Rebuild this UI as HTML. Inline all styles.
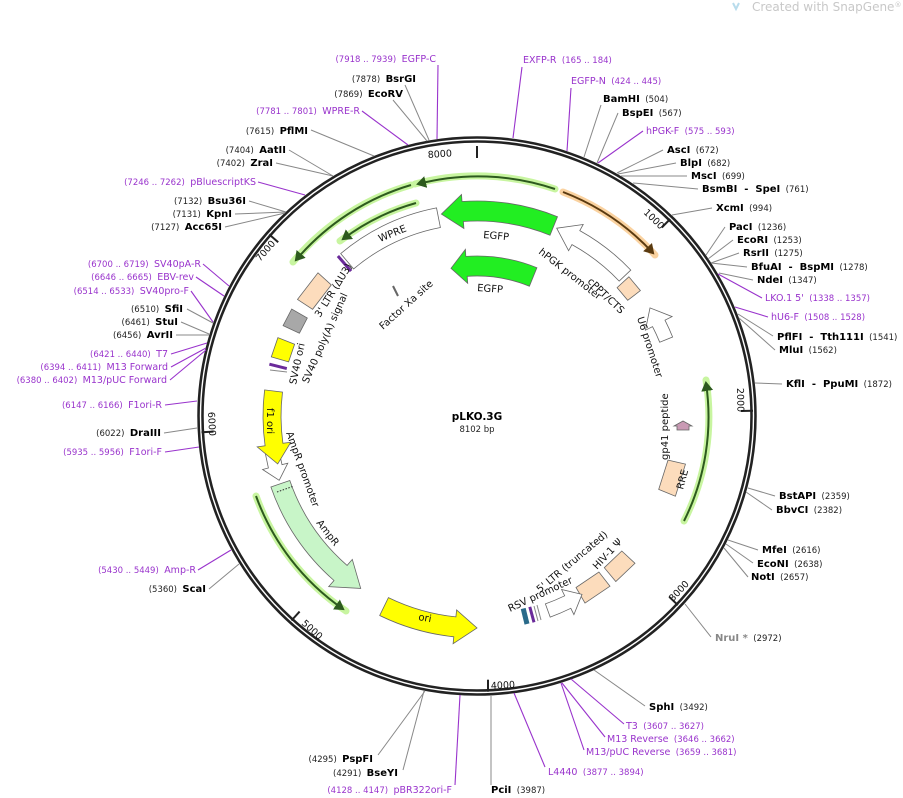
<!DOCTYPE html>
<html><head><meta charset="utf-8"><style>
html,body{margin:0;padding:0;background:#fff;}
svg{display:block;font-family:"DejaVu Sans","Liberation Sans",sans-serif;}
text{white-space:pre;}
.n{font-size:10px;font-weight:bold;fill:#000;}
.c{font-size:8.5px;fill:#222;}
.p{font-size:9.5px;fill:#9933cc;}
.pc{font-size:8.5px;fill:#9933cc;}
.f{font-size:10px;fill:#111;}
.l{stroke:#888;stroke-width:1;fill:none;}
.lp{stroke:#9933cc;stroke-width:1.1;fill:none;}
.ft{stroke:#666;stroke-width:0.8;}
</style></head><body>
<svg width="903" height="798" viewBox="0 0 903 798" xmlns="http://www.w3.org/2000/svg">
<defs>
<marker id="ag" markerWidth="6" markerHeight="6" refX="4" refY="3" orient="auto" markerUnits="strokeWidth"><path d="M0,0 L5,3 L0,6 Z" fill="#2d5a1e"/></marker>
<marker id="ao" markerWidth="6" markerHeight="6" refX="4" refY="3" orient="auto" markerUnits="strokeWidth"><path d="M0,0 L5,3 L0,6 Z" fill="#5a3a10"/></marker>
</defs>
<text x="752" y="11" font-size="12" fill="#c8c8c8">Created with SnapGene<tspan font-size="7" dy="-4">®</tspan></text>
<path d="M733,3 l3,6 l3,-6" stroke="#b8dcec" stroke-width="2" fill="none"/>

<circle cx="477" cy="416" r="276.5" fill="none" stroke="#222" stroke-width="6.5"/>
<circle cx="477" cy="416" r="276.5" fill="none" stroke="#fff" stroke-width="1.4"/>
<g stroke="#222" stroke-width="2">
<line x1="477" y1="146" x2="477" y2="158"/>
<line x1="661.8" y1="227.5" x2="670.2" y2="219"/>
<line x1="741" y1="411" x2="753" y2="410.7"/>
<line x1="669.2" y1="596.8" x2="677.9" y2="605.1"/>
<line x1="488" y1="679.7" x2="488" y2="691.7"/>
<line x1="299.6" y1="611.6" x2="291.5" y2="620.5"/>
<line x1="213.5" y1="431.6" x2="201.5" y2="432.3"/>
<line x1="278.2" y1="242.3" x2="269.2" y2="234.4"/>
</g>
<g font-size="9.5" fill="#111">
<text transform="translate(428,158) rotate(-4)">8000</text>
<text transform="translate(643,213) rotate(44)">1000</text>
<text transform="translate(737,388) rotate(89)">2000</text>
<text transform="translate(673,602) rotate(-47)">3000</text>
<text transform="translate(491,689) rotate(-3)">4000</text>
<text transform="translate(301,624) rotate(42)">5000</text>
<text transform="translate(208,412) rotate(87)">6000</text>
<text transform="translate(260,262) rotate(-49)">7000</text>
</g>

<g fill="none" stroke-linecap="round">
<path d="M555,189 A240 240 0 0 0 415,184" stroke="#c8f5a0" stroke-width="7"/>
<path d="M411,185 A240 240 0 0 0 293,262" stroke="#c8f5a0" stroke-width="7"/>
<path d="M416,203 A222 222 0 0 0 340,241" stroke="#c8f5a0" stroke-width="7"/>
<path d="M684,521 A232 232 0 0 0 706,380" stroke="#c8f5a0" stroke-width="7"/>
<path d="M256,496 A235 235 0 0 0 346,611" stroke="#c8f5a0" stroke-width="7"/>
<path d="M563,192 A240 240 0 0 1 655,255" stroke="#fad2a0" stroke-width="7"/>
</g>
<g fill="none" stroke-width="2">
<path d="M555,189 A240 240 0 0 0 418,184" stroke="#2d5a1e" marker-end="url(#ag)"/>
<path d="M411,185 A240 240 0 0 0 296,260" stroke="#2d5a1e" marker-end="url(#ag)"/>
<path d="M416,203 A222 222 0 0 0 343,239" stroke="#2d5a1e" marker-end="url(#ag)"/>
<path d="M684,521 A232 232 0 0 0 706,383" stroke="#2d5a1e" marker-end="url(#ag)"/>
<path d="M256,496 A235 235 0 0 0 343,609" stroke="#2d5a1e" marker-end="url(#ag)"/>
<path d="M563,192 A240 240 0 0 1 653,253" stroke="#5a3a10" marker-end="url(#ao)"/>
</g>

<g class="ft">
<path d="M557.5,216.7 A215 215 0 0 0 462,201.5 L461.5,194.5 L441.4,214.1 L463.9,228.5 L463.4,221.5 A195 195 0 0 1 550,235.2 Z" fill="#22ee22"/>
<path d="M536.9,267.7 A160 160 0 0 0 465.8,256.4 L465.4,249.4 L451,268.3 L467.7,283.3 L467.2,276.3 A140 140 0 0 1 529.4,286.2 Z" fill="#22ee22"/>
<path d="M436.5,207.9 A212 212 0 0 0 340.7,253.6 L353.6,268.9 A192 192 0 0 1 440.4,227.5 Z" fill="#fff"/>
<path d="M630.8,270.1 A212 212 0 0 0 579.8,230.6 L583.2,224.5 L556.7,228.2 L568.6,250.7 L572,244.6 A196 196 0 0 1 619.2,281.1 Z" fill="#fff"/>
<polygon points="628.9,276.8 617.1,287.6 627.7,300.3 640.4,290.6" fill="#fcdcbc"/>
<path d="M672.6,337 A211 211 0 0 0 665,320.2 L672.1,316.6 L650,307.9 L645.4,330.2 L652.5,326.6 A197 197 0 0 1 659.7,342.2 Z" fill="#fff"/>
<polygon points="674,426 683,421 692,426 689,426 689,430 677,430 677,426" fill="#c99ab4"/>
<polygon points="685.5,464.1 668,460.1 658.7,489.4 675.4,496.2" fill="#fcdcbc"/>
<polygon points="635,563.3 621.8,551 604.3,567.7 615.8,581.5" fill="#fcdcbc"/>
<polygon points="610,586.2 598.9,572 576,587.5 585,603.1" fill="#fcdcbc"/>
<path d="M550.2,617.1 A214 214 0 0 0 570.8,608.3 L573.9,614.6 L582,594.4 L561.6,589.5 L564.7,595.8 A200 200 0 0 1 545.4,603.9 Z" fill="#fff"/>
<path d="M379.7,615.5 A222 222 0 0 0 453.8,636.8 L453.1,643.7 L477,628 L456.6,609.9 L455.9,616.9 A202 202 0 0 1 388.4,597.6 Z" fill="#ffff00"/>
<path d="M270.9,487 A218 218 0 0 0 334,580.5 L328.7,586.6 L360.7,588.4 L352.3,559.4 L347.1,565.4 A198 198 0 0 1 289.8,480.5 Z" fill="#c8f5c8"/>
<path d="M265.3,453.3 L268.4,468 L262.6,469.5 L279.2,480.3 L287.8,463.2 L282,464.6 L279,450.9 Z" fill="#fff"/>
<path d="M264.6,389.9 A214 214 0 0 0 265.1,445.8 L257.2,446.9 L277.7,463.9 L290.8,442.2 L282.9,443.3 A196 196 0 0 1 282.5,392.1 Z" fill="#ffff00"/>
<polygon points="271.3,356.9 288.6,361.9 294.6,344.2 277.9,337.6" fill="#ffff00"/>
<polygon points="283.1,325.6 299.4,333.2 307.3,318 291.7,309" fill="#a8a8a8"/>
<polygon points="297.5,299.4 312.6,309.3 331.3,284.9 318,272.8" fill="#fcdcbc"/>
</g>
<line x1="277" y1="492" x2="294" y2="486" stroke="#333" stroke-dasharray="1.5,1.5"/>
<line x1="337.9" y1="256" x2="351" y2="271.1" stroke="#6a2a9a" stroke-width="3"/>
<line x1="269.4" y1="364.2" x2="286.8" y2="368.6" stroke="#6a2a9a" stroke-width="3"/>
<line x1="270" y1="370" x2="287" y2="372" stroke="#888" stroke-width="1"/>
<line x1="393" y1="286" x2="398" y2="296" stroke="#666" stroke-width="2"/>
<line x1="527" y1="624" x2="523.2" y2="608.5" stroke="#2a6a8a" stroke-width="5"/>
<line x1="534" y1="622.3" x2="529.8" y2="606.9" stroke="#6a2a9a" stroke-width="3"/>
<line x1="538" y1="621" x2="534" y2="606" stroke="#888" stroke-width="1"/>
<line x1="541" y1="620" x2="537" y2="605" stroke="#888" stroke-width="1"/>

<g class="f">
<text transform="translate(483,238) rotate(5)">EGFP</text>
<text transform="translate(477,291) rotate(4)">EGFP</text>
<text transform="translate(380,242) rotate(-22)">WPRE</text>
<text transform="translate(538,253) rotate(38)">hPGK promoter</text>
<text transform="translate(587,282) rotate(44)">cPPT/CTS</text>
<text transform="translate(637,318) rotate(72)">U6 promoter</text>
<text transform="translate(668,460) rotate(-90)">gp41 peptide</text>
<text transform="translate(683,490) rotate(-75)">RRE</text>
<text transform="translate(597,570) rotate(-47)">HIV-1 Ψ</text>
<text transform="translate(540,593) rotate(-40)">5' LTR (truncated)</text>
<text transform="translate(510,612) rotate(-25)">RSV promoter</text>
<text transform="translate(418,620) rotate(10)">ori</text>
<text transform="translate(316,523) rotate(52)">AmpR</text>
<text transform="translate(286,433) rotate(70)">AmpR promoter</text>
<text transform="translate(267,408) rotate(90)">f1 ori</text>
<text transform="translate(296,385) rotate(-78)">SV40 ori</text>
<text transform="translate(308,384) rotate(-66)">SV40 poly(A) signal</text>
<text transform="translate(320,318) rotate(-58)">3' LTR (ΔU3)</text>
<text transform="translate(383,330) rotate(-42)">Factor Xa site</text>
</g>
<text x="477" y="420" text-anchor="middle" font-size="10.5" font-weight="bold">pLKO.3G</text>
<text x="477" y="432" text-anchor="middle" font-size="8.5" fill="#222">8102 bp</text>

<g class="l">
<path d="M405,85 L429,140"/><path d="M393,100 L427,141"/>
<path d="M311,130 L374,156"/><path d="M289,150 L333,176"/><path d="M276,163 L333,176"/>
<path d="M249,201 L286,212"/><path d="M235,214 L286,212"/><path d="M225,227 L285,213"/>
<path d="M187,309 L213,323"/><path d="M181,322 L209,334"/><path d="M176,335 L209,335"/>
<path d="M164,433 L197,428"/><path d="M209,589 L239,564"/>
<path d="M378,755 L425,691"/><path d="M403,770 L424,691"/><path d="M491,785 L491,696"/>
<path d="M645,706 L594,670"/><path d="M711,637 L685,604"/>
<path d="M748,577 L724,548"/><path d="M753,563 L726,544"/><path d="M758,550 L728,540"/>
<path d="M772,510 L746,492"/><path d="M775,496 L748,488"/><path d="M782,384 L755,383"/>
<path d="M775,350 L739,318"/><path d="M773,336 L738,314"/><path d="M753,280 L719,273"/>
<path d="M747,267 L711,263"/><path d="M739,253 L711,263"/><path d="M733,240 L708,259"/><path d="M725,227 L706,255"/>
<path d="M712,208 L672,215"/><path d="M698,189 L633,183"/><path d="M687,176 L621,176"/><path d="M676,163 L618,174"/><path d="M663,150 L617,173"/>
<path d="M618,113 L597,163"/><path d="M601,105 L584,157"/>
</g>
<g class="lp">
<path d="M438,65 L437,139"/><path d="M362,111 L408,145"/><path d="M258,182 L305,195"/>
<path d="M203,264 L229,286"/><path d="M196,277 L224,296"/><path d="M191,291 L213,322"/>
<path d="M171,354 L207,343"/><path d="M171,367 L206,348"/><path d="M170,380 L206,350"/>
<path d="M165,405 L197,401"/><path d="M165,452 L199,447"/><path d="M198,570 L231,550"/>
<path d="M455,785 L460,695"/><path d="M545,767 L514,693"/>
<path d="M584,750 L561,683"/><path d="M605,737 L562,683"/><path d="M624,724 L571,679"/>
<path d="M768,317 L735,307"/><path d="M762,298 L718,274"/>
<path d="M643,131 L598,163"/><path d="M571,88 L567,151"/><path d="M522,67 L513,138"/>
</g>

<g text-anchor="end">
<text x="436" y="62"><tspan class="pc">(7918 .. 7939)  </tspan><tspan class="p">EGFP-C</tspan></text>
<text x="416" y="82"><tspan class="c">(7878)  </tspan><tspan class="n">BsrGI</tspan></text>
<text x="403" y="97"><tspan class="c">(7869)  </tspan><tspan class="n">EcoRV</tspan></text>
<text x="360" y="114"><tspan class="pc">(7781 .. 7801)  </tspan><tspan class="p">WPRE-R</tspan></text>
<text x="308" y="134"><tspan class="c">(7615)  </tspan><tspan class="n">PflMI</tspan></text>
<text x="286" y="153"><tspan class="c">(7404)  </tspan><tspan class="n">AatII</tspan></text>
<text x="273" y="166"><tspan class="c">(7402)  </tspan><tspan class="n">ZraI</tspan></text>
<text x="256" y="185"><tspan class="pc">(7246 .. 7262)  </tspan><tspan class="p">pBluescriptKS</tspan></text>
<text x="246" y="204"><tspan class="c">(7132)  </tspan><tspan class="n">Bsu36I</tspan></text>
<text x="232" y="217"><tspan class="c">(7131)  </tspan><tspan class="n">KpnI</tspan></text>
<text x="222" y="230"><tspan class="c">(7127)  </tspan><tspan class="n">Acc65I</tspan></text>
<text x="201" y="267"><tspan class="pc">(6700 .. 6719)  </tspan><tspan class="p">SV40pA-R</tspan></text>
<text x="194" y="280"><tspan class="pc">(6646 .. 6665)  </tspan><tspan class="p">EBV-rev</tspan></text>
<text x="189" y="294"><tspan class="pc">(6514 .. 6533)  </tspan><tspan class="p">SV40pro-F</tspan></text>
<text x="183" y="312"><tspan class="c">(6510)  </tspan><tspan class="n">SfiI</tspan></text>
<text x="178" y="325"><tspan class="c">(6461)  </tspan><tspan class="n">StuI</tspan></text>
<text x="173" y="338"><tspan class="c">(6456)  </tspan><tspan class="n">AvrII</tspan></text>
<text x="168" y="357"><tspan class="pc">(6421 .. 6440)  </tspan><tspan class="p">T7</tspan></text>
<text x="168" y="370"><tspan class="pc">(6394 .. 6411)  </tspan><tspan class="p">M13 Forward</tspan></text>
<text x="167" y="383"><tspan class="pc">(6380 .. 6402)  </tspan><tspan class="p">M13/pUC Forward</tspan></text>
<text x="162" y="408"><tspan class="pc">(6147 .. 6166)  </tspan><tspan class="p">F1ori-R</tspan></text>
<text x="161" y="436"><tspan class="c">(6022)  </tspan><tspan class="n">DraIII</tspan></text>
<text x="162" y="455"><tspan class="pc">(5935 .. 5956)  </tspan><tspan class="p">F1ori-F</tspan></text>
<text x="196" y="573"><tspan class="pc">(5430 .. 5449)  </tspan><tspan class="p">Amp-R</tspan></text>
<text x="206" y="592"><tspan class="c">(5360)  </tspan><tspan class="n">ScaI</tspan></text>
<text x="373" y="762"><tspan class="c">(4295)  </tspan><tspan class="n">PspFI</tspan></text>
<text x="398" y="776"><tspan class="c">(4291)  </tspan><tspan class="n">BseYI</tspan></text>
<text x="452" y="793"><tspan class="pc">(4128 .. 4147)  </tspan><tspan class="p">pBR322ori-F</tspan></text>
</g>
<g>
<text x="491" y="793"><tspan class="n">PciI</tspan><tspan class="c">  (3987)</tspan></text>
<text x="548" y="775"><tspan class="p">L4440</tspan><tspan class="pc">  (3877 .. 3894)</tspan></text>
<text x="586" y="755"><tspan class="p">M13/pUC Reverse</tspan><tspan class="pc">  (3659 .. 3681)</tspan></text>
<text x="607" y="742"><tspan class="p">M13 Reverse</tspan><tspan class="pc">  (3646 .. 3662)</tspan></text>
<text x="626" y="729"><tspan class="p">T3</tspan><tspan class="pc">  (3607 .. 3627)</tspan></text>
<text x="649" y="710"><tspan class="n">SphI</tspan><tspan class="c">  (3492)</tspan></text>
<text x="715" y="641"><tspan class="n" style="fill:#888">NruI *</tspan><tspan class="c">  (2972)</tspan></text>
<text x="751" y="580"><tspan class="n">NotI</tspan><tspan class="c">  (2657)</tspan></text>
<text x="757" y="567"><tspan class="n">EcoNI</tspan><tspan class="c">  (2638)</tspan></text>
<text x="762" y="553"><tspan class="n">MfeI</tspan><tspan class="c">  (2616)</tspan></text>
<text x="776" y="513"><tspan class="n">BbvCI</tspan><tspan class="c">  (2382)</tspan></text>
<text x="779" y="499"><tspan class="n">BstAPI</tspan><tspan class="c">  (2359)</tspan></text>
<text x="786" y="387"><tspan class="n">KflI  -  PpuMI</tspan><tspan class="c">  (1872)</tspan></text>
<text x="779" y="353"><tspan class="n">MluI</tspan><tspan class="c">  (1562)</tspan></text>
<text x="777" y="340"><tspan class="n">PflFI  -  Tth111I</tspan><tspan class="c">  (1541)</tspan></text>
<text x="771" y="320"><tspan class="p">hU6-F</tspan><tspan class="pc">  (1508 .. 1528)</tspan></text>
<text x="765" y="301"><tspan class="p">LKO.1 5'</tspan><tspan class="pc">  (1338 .. 1357)</tspan></text>
<text x="757" y="283"><tspan class="n">NdeI</tspan><tspan class="c">  (1347)</tspan></text>
<text x="751" y="270"><tspan class="n">BfuAI  -  BspMI</tspan><tspan class="c">  (1278)</tspan></text>
<text x="743" y="256"><tspan class="n">RsrII</tspan><tspan class="c">  (1275)</tspan></text>
<text x="737" y="243"><tspan class="n">EcoRI</tspan><tspan class="c">  (1253)</tspan></text>
<text x="729" y="230"><tspan class="n">PacI</tspan><tspan class="c">  (1236)</tspan></text>
<text x="716" y="211"><tspan class="n">XcmI</tspan><tspan class="c">  (994)</tspan></text>
<text x="702" y="192"><tspan class="n">BsmBI  -  SpeI</tspan><tspan class="c">  (761)</tspan></text>
<text x="691" y="179"><tspan class="n">MscI</tspan><tspan class="c">  (699)</tspan></text>
<text x="680" y="166"><tspan class="n">BlpI</tspan><tspan class="c">  (682)</tspan></text>
<text x="667" y="153"><tspan class="n">AscI</tspan><tspan class="c">  (672)</tspan></text>
<text x="646" y="134"><tspan class="p">hPGK-F</tspan><tspan class="pc">  (575 .. 593)</tspan></text>
<text x="622" y="116"><tspan class="n">BspEI</tspan><tspan class="c">  (567)</tspan></text>
<text x="603" y="102"><tspan class="n">BamHI</tspan><tspan class="c">  (504)</tspan></text>
<text x="571" y="84"><tspan class="p">EGFP-N</tspan><tspan class="pc">  (424 .. 445)</tspan></text>
<text x="523" y="63"><tspan class="p">EXFP-R</tspan><tspan class="pc">  (165 .. 184)</tspan></text>
</g>
</svg>
</body></html>
